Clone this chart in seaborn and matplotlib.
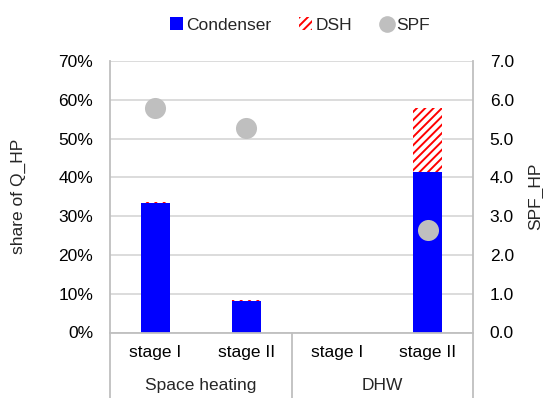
import numpy as np
import pandas as pd
import matplotlib
matplotlib.use("Agg")
import matplotlib.pyplot as plt
from matplotlib.patches import Patch
from matplotlib.lines import Line2D
import seaborn as sns

# Heat pump operation: share of heat delivered by condenser / desuperheater, and SPF
groups = ["Space heating", "Space heating", "DHW", "DHW"]
stages = ["stage I", "stage II", "stage I", "stage II"]
condenser = [33.5, 8.0, 0.0, 41.5]      # % of Q_HP
dsh = [0.2, 0.3, 0.0, 16.5]             # % of Q_HP
spf = [5.78, 5.28, np.nan, 2.64]        # SPF_HP

cats = [f"{g}|{s}" for g, s in zip(groups, stages)]
df = pd.DataFrame({"cat": cats, "condenser": condenser, "dsh": dsh, "spf": spf})
df["total"] = df["condenser"] + df["dsh"]

sns.set_theme(style="white")
plt.rcParams["font.family"] = ["Liberation Sans", "DejaVu Sans"]
plt.rcParams["hatch.linewidth"] = 1.4
FS = 12.5
GRID = "#D9D9D9"
AXC = "#BFBFBF"

fig = plt.figure(figsize=(5.43, 3.98), dpi=100)
ax = fig.add_axes([110 / 543, 1 - 332.5 / 398, 363 / 543, 271.5 / 398])

# stacked bars: total (hatched DSH) underneath, condenser on top
sns.barplot(data=df, x="cat", y="total", order=cats, ax=ax, color="white",
            width=0.32, hatch="////", edgecolor="red", linewidth=0, saturation=1)
sns.barplot(data=df, x="cat", y="condenser", order=cats, ax=ax, color="#0000FF",
            width=0.32, linewidth=0, saturation=1)

ax.set_xlim(-0.5, 3.5)
ax.set_ylim(0, 70)
ax.set_yticks(np.arange(0, 71, 10))
ax.set_yticklabels([f"{v}%" for v in range(0, 71, 10)], fontsize=FS)
ax.yaxis.grid(True, color=GRID, linewidth=1.3)
ax.set_axisbelow(True)
ax.set_xticks(range(len(cats)))
ax.set_xticklabels(stages, fontsize=FS)
ax.tick_params(axis="both", length=0, pad=12, colors="black")
ax.tick_params(axis="x", pad=9)
ax.set_xlabel("")
ax.set_ylabel("share of Q_HP", fontsize=FS, va="center")
ax.yaxis.set_label_coords(-0.253, 0.5)
for side in ["left", "right", "bottom"]:
    ax.spines[side].set_color(AXC)
    ax.spines[side].set_linewidth(1.3)
ax.spines["top"].set_visible(False)

# group separators and labels of the two-level category axis
for xb in [-0.5, 1.5, 3.5]:
    ax.plot([xb, xb], [0, -0.3], transform=ax.get_xaxis_transform(),
            color=AXC, linewidth=1.3, clip_on=False)
for gx, gname in [(0.5, "Space heating"), (2.5, "DHW")]:
    ax.text(gx, -0.195, gname, transform=ax.get_xaxis_transform(),
            ha="center", va="center", fontsize=FS)

# SPF on secondary axis
ax2 = ax.twinx()
sns.scatterplot(x=np.arange(len(cats)), y=df["spf"], ax=ax2, color="#BFBFBF",
                s=230, linewidth=0, legend=False, zorder=5)
ax2.set_xlim(-0.5, 3.5)
ax2.set_ylim(0, 7)
ax2.set_yticks(np.arange(0, 7.1, 1))
ax2.set_yticklabels([f"{v:.1f}" for v in np.arange(0, 7.1, 1)], fontsize=FS)
ax2.tick_params(axis="y", length=0, pad=12, colors="black")
ax2.set_ylabel("SPF_HP", fontsize=FS, va="center")
ax2.yaxis.set_label_coords(1.172, 0.5)
for s in ax2.spines.values():
    s.set_visible(False)

handles = [
    Patch(facecolor="#0000FF", edgecolor="none", label="Condenser"),
    Patch(facecolor="white", edgecolor="red", hatch="////", linewidth=0, label="DSH"),
    Line2D([], [], marker="o", linestyle="none", markersize=12,
           markerfacecolor="#BFBFBF", markeredgecolor="none", label="SPF"),
]
fig.legend(handles=handles, loc="center", bbox_to_anchor=(300 / 543, 1 - 25 / 398),
           ncol=3, frameon=False, fontsize=FS, handlelength=0.75, handleheight=0.75,
           handletextpad=0.2, columnspacing=1.6)

fig.savefig("out.png", dpi=100)
